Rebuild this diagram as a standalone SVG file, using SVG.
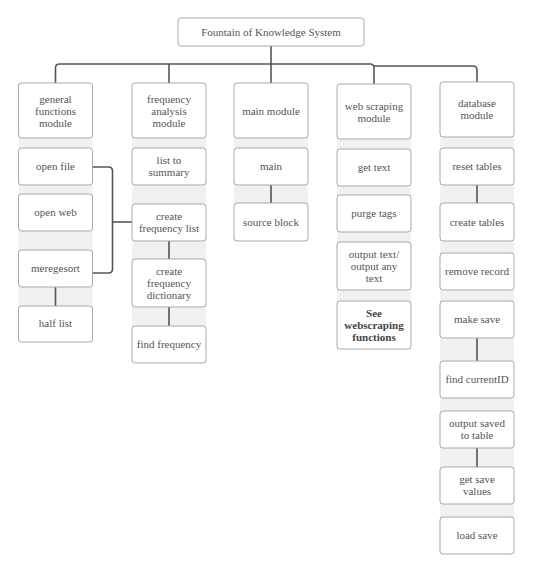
<svg xmlns="http://www.w3.org/2000/svg" width="533" height="573" viewBox="0 0 533 573">
<style>
.bg{fill:#f1f1f1;stroke:none}
.box{fill:#fff;stroke:#a9a9a9;stroke-width:1}
.t{font-family:"Liberation Serif","Times New Roman",serif;font-size:11px;fill:#555;text-anchor:middle}
.b{font-weight:bold;fill:#444}
.c{fill:none;stroke:#555;stroke-width:1.6}
</style>
<rect width="533" height="573" fill="#fff"/>
<g id="columns">
<rect class="bg" x="18.5" y="83" width="74" height="259"/>
<rect class="bg" x="132" y="83" width="74" height="280"/>
<rect class="bg" x="234" y="83" width="74" height="158"/>
<rect class="bg" x="337" y="84" width="74" height="265"/>
<rect class="bg" x="440" y="82" width="74" height="472"/>
</g>
<g id="connectors">
<path class="c" d="M271 46V64"/>
<path class="c" d="M55.5 83V68Q55.5 64 59.5 64H370Q374 64 374 68V84"/>
<path class="c" d="M374 66H473Q477 66 477 70V82"/>
<path class="c" d="M169 64V83"/>
<path class="c" d="M271 64V83"/>
<path class="c" d="M92.5 167H108.5Q112.5 167 112.5 171V269Q112.5 273 108.5 273H92.5"/>
<path class="c" d="M112.5 222H132"/>
<path class="c" d="M55.5 287V306"/>
<path class="c" d="M169 241V259"/>
<path class="c" d="M169 307V326"/>
<path class="c" d="M271 185V203"/>
<path class="c" d="M477 185V203"/>
<path class="c" d="M477 338V361"/>
<path class="c" d="M477 448V467"/>
</g>
<g id="root"><rect class="box" x="178" y="18" width="186" height="28" rx="3"/><text class="t" x="271" y="36">Fountain of Knowledge System</text></g>
<g id="general-functions-module"><rect class="box" x="18.5" y="83" width="74" height="55" rx="3"/><text class="t" x="55.5" y="103">general</text><text class="t" x="55.5" y="115">functions</text><text class="t" x="55.5" y="127">module</text></g>
<g id="open-file"><rect class="box" x="18.5" y="148" width="74" height="37" rx="3"/><text class="t" x="55.5" y="170">open file</text></g>
<g id="open-web"><rect class="box" x="18.5" y="194" width="74" height="37" rx="3"/><text class="t" x="55.5" y="216">open web</text></g>
<g id="meregesort"><rect class="box" x="18.5" y="250" width="74" height="37" rx="3"/><text class="t" x="55.5" y="272">meregesort</text></g>
<g id="half-list"><rect class="box" x="18.5" y="306" width="74" height="36" rx="3"/><text class="t" x="55.5" y="327">half list</text></g>
<g id="frequency-analysis-module"><rect class="box" x="132" y="83" width="74" height="55" rx="3"/><text class="t" x="169" y="103">frequency</text><text class="t" x="169" y="115">analysis</text><text class="t" x="169" y="127">module</text></g>
<g id="list-to-summary"><rect class="box" x="132" y="148" width="74" height="37" rx="3"/><text class="t" x="169" y="164">list to</text><text class="t" x="169" y="176">summary</text></g>
<g id="create-frequency-list"><rect class="box" x="132" y="204" width="74" height="37" rx="3"/><text class="t" x="169" y="220">create</text><text class="t" x="169" y="232">frequency list</text></g>
<g id="create-frequency-dictionary"><rect class="box" x="132" y="259" width="74" height="48" rx="3"/><text class="t" x="169" y="275">create</text><text class="t" x="169" y="287">frequency</text><text class="t" x="169" y="299">dictionary</text></g>
<g id="find-frequency"><rect class="box" x="132" y="326" width="74" height="37" rx="3"/><text class="t" x="169" y="348">find frequency</text></g>
<g id="main-module"><rect class="box" x="234" y="83" width="74" height="55" rx="3"/><text class="t" x="271" y="115">main module</text></g>
<g id="main"><rect class="box" x="234" y="148" width="74" height="37" rx="3"/><text class="t" x="271" y="170">main</text></g>
<g id="source-block"><rect class="box" x="234" y="203" width="74" height="38" rx="3"/><text class="t" x="271" y="226">source block</text></g>
<g id="web-scraping-module"><rect class="box" x="337" y="84" width="74" height="55" rx="3"/><text class="t" x="374" y="110">web scraping</text><text class="t" x="374" y="122">module</text></g>
<g id="get-text"><rect class="box" x="337" y="149" width="74" height="37" rx="3"/><text class="t" x="374" y="171">get text</text></g>
<g id="purge-tags"><rect class="box" x="337" y="195" width="74" height="37" rx="3"/><text class="t" x="374" y="217">purge tags</text></g>
<g id="output-text"><rect class="box" x="337" y="242" width="74" height="48" rx="3"/><text class="t" x="374" y="258">output text/</text><text class="t" x="374" y="270">output any</text><text class="t" x="374" y="282">text</text></g>
<g id="see-webscraping-functions"><rect class="box" x="337" y="301" width="74" height="48" rx="3"/><text class="t b" x="374" y="317">See</text><text class="t b" x="374" y="329">webscraping</text><text class="t b" x="374" y="341">functions</text></g>
<g id="database-module"><rect class="box" x="440" y="82" width="74" height="55" rx="3"/><text class="t" x="477" y="107">database</text><text class="t" x="477" y="119">module</text></g>
<g id="reset-tables"><rect class="box" x="440" y="148" width="74" height="37" rx="3"/><text class="t" x="477" y="170">reset tables</text></g>
<g id="create-tables"><rect class="box" x="440" y="203" width="74" height="38" rx="3"/><text class="t" x="477" y="226">create tables</text></g>
<g id="remove-record"><rect class="box" x="440" y="253" width="74" height="37" rx="3"/><text class="t" x="477" y="275">remove record</text></g>
<g id="make-save"><rect class="box" x="440" y="301" width="74" height="37" rx="3"/><text class="t" x="477" y="323">make save</text></g>
<g id="find-currentid"><rect class="box" x="440" y="361" width="74" height="37" rx="3"/><text class="t" x="477" y="383">find currentID</text></g>
<g id="output-saved-to-table"><rect class="box" x="440" y="411" width="74" height="37" rx="3"/><text class="t" x="477" y="427">output saved</text><text class="t" x="477" y="439">to table</text></g>
<g id="get-save-values"><rect class="box" x="440" y="467" width="74" height="37" rx="3"/><text class="t" x="477" y="483">get save</text><text class="t" x="477" y="495">values</text></g>
<g id="load-save"><rect class="box" x="440" y="517" width="74" height="37" rx="3"/><text class="t" x="477" y="539">load save</text></g>
</svg>
